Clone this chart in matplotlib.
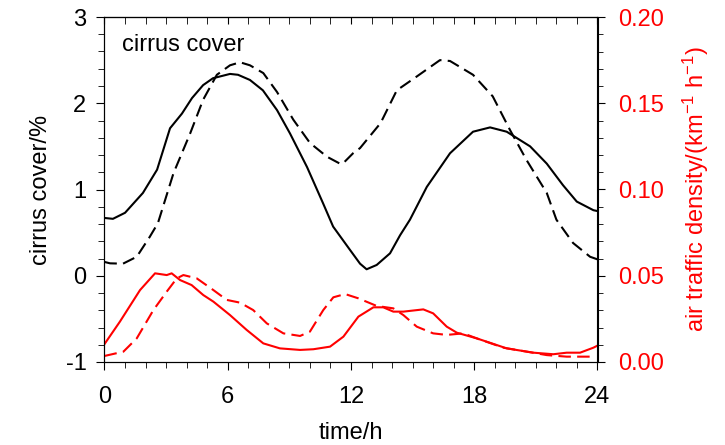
import numpy as np
import matplotlib.pyplot as plt
from matplotlib.ticker import MultipleLocator

plt.rcParams['font.family'] = ['Liberation Sans', 'DejaVu Sans']
plt.rcParams['axes.unicode_minus'] = False
plt.rcParams['mathtext.fontset'] = 'custom'
plt.rcParams['mathtext.rm'] = 'Liberation Sans'
plt.rcParams['mathtext.it'] = 'Liberation Sans'

# cirrus cover (left axis), solid and dashed scenario
t_cs = [0.0, 0.41, 1.0, 1.87, 2.56, 3.19, 3.77, 4.26, 4.80, 5.28, 6.11, 6.50, 7.08, 7.71, 8.40,
        9.03, 9.86, 10.64, 11.13, 11.95, 12.44, 12.76, 13.25, 13.9, 14.39, 14.87, 15.69, 16.82,
        17.94, 18.77, 19.58, 20.72, 21.53, 22.32, 22.99, 23.8, 24.0]
c_solid = [0.67, 0.66, 0.73, 0.96, 1.23, 1.71, 1.88, 2.06, 2.21, 2.29, 2.34, 2.33, 2.27, 2.15, 1.92,
           1.65, 1.26, 0.84, 0.57, 0.30, 0.14, 0.075, 0.125, 0.26, 0.47, 0.65, 1.03, 1.42,
           1.67, 1.72, 1.67, 1.50, 1.30, 1.05, 0.86, 0.76, 0.75]

t_cd = [0.0, 0.27, 0.9, 1.57, 2.2, 2.6, 3.36, 4.17, 4.8, 5.47, 6.11, 6.6, 7.08, 7.73, 8.4, 9.19,
        10.0, 10.83, 11.46, 11.6, 12.1, 12.44, 13.44, 14.23, 15.2, 16.33, 16.82, 17.94, 18.9,
        19.74, 20.55, 21.53, 22.0, 22.81, 23.64, 24.0]
c_dash = [0.16, 0.144, 0.14, 0.22, 0.45, 0.61, 1.19, 1.65, 2.04, 2.33, 2.44, 2.475, 2.44, 2.35, 2.13, 1.81,
          1.54, 1.38, 1.30, 1.30, 1.42, 1.48, 1.77, 2.15, 2.31, 2.50, 2.49, 2.33, 2.08,
          1.69, 1.34, 0.96, 0.65, 0.38, 0.22, 0.19]

# air traffic density (right axis)
t_as = [0.0, 0.75, 1.73, 2.46, 3.03, 3.27, 3.68, 4.24, 4.81, 5.3, 6.11, 6.92, 7.73, 8.54, 9.52,
        10.17, 10.98, 11.63, 12.36, 13.09, 13.57, 14.06, 14.55, 15.52, 16.0, 16.66, 17.15, 18.12,
        19.58, 20.88, 21.85, 22.5, 23.15, 23.8, 24.0]
a_solid = [0.0104, 0.0234, 0.0417, 0.0514, 0.0504, 0.0514, 0.0475, 0.0446, 0.0388, 0.035, 0.0272,
           0.0186, 0.0108, 0.0079, 0.007, 0.0074, 0.0089, 0.0147, 0.0263, 0.0317, 0.0317, 0.0292,
           0.0292, 0.0305, 0.0282, 0.0205, 0.017, 0.0137, 0.0079, 0.0054, 0.0045, 0.0054, 0.0054,
           0.0083, 0.0095]

t_ad = [0.0, 0.92, 1.57, 2.38, 3.03, 3.52, 3.84, 4.49, 5.3, 5.95, 6.6, 7.24, 7.9, 8.71, 9.52,
        10.0, 10.65, 11.14, 11.71, 12.36, 13.25, 14.06, 14.55, 15.2, 16.0, 16.66, 17.47, 18.12,
        19.42, 20.55, 21.53, 22.5, 23.64]
a_dash = [0.0035, 0.006, 0.0137, 0.0301, 0.0408, 0.0485, 0.0504, 0.0485, 0.0417, 0.036, 0.0344,
          0.0301, 0.0224, 0.0166, 0.0151, 0.0176, 0.0301, 0.0375, 0.0394, 0.0369, 0.0325, 0.0311,
          0.0272, 0.0205, 0.0166, 0.0157, 0.0166, 0.0137, 0.0083, 0.006, 0.004, 0.0031, 0.0031]

fig = plt.figure(figsize=(7.25, 4.45), dpi=100)
ax = fig.add_axes([104.5/725, 1-362/445, 493/725, 345/445])
ax2 = ax.twinx()

lw = 1.5
ax.plot(t_cs, c_solid, color='black', lw=lw)
ax.plot(t_cd, c_dash, color='black', lw=lw, dashes=[6, 3])
ax2.plot(t_as, a_solid, color='red', lw=lw)
ax2.plot(t_ad, a_dash, color='red', lw=lw, dashes=[6, 3])

fs = 17
ax.set_xlim(0, 24)
ax.set_ylim(-1, 3)
ax2.set_ylim(0, 0.2)

ax.xaxis.set_major_locator(MultipleLocator(6))
ax.xaxis.set_minor_locator(MultipleLocator(1))
ax.yaxis.set_major_locator(MultipleLocator(1))
ax.yaxis.set_minor_locator(MultipleLocator(0.2))
ax2.yaxis.set_major_locator(MultipleLocator(0.05))
ax2.yaxis.set_minor_locator(MultipleLocator(0.01))
ax2.yaxis.set_major_formatter(plt.FormatStrFormatter('%.2f'))

ax.tick_params(axis='both', which='major', direction='out', length=6, labelsize=fs, pad=7)
ax.tick_params(axis='x', which='major', pad=11)
ax.tick_params(axis='both', which='minor', direction='out', length=4)
ax2.tick_params(axis='y', which='major', direction='out', length=6, labelsize=fs,
                labelcolor='red', pad=9)
ax2.tick_params(axis='y', which='minor', direction='out', length=4)

# top ticks point into the plot
sec = ax.secondary_xaxis('top')
sec.xaxis.set_major_locator(MultipleLocator(6))
sec.xaxis.set_minor_locator(MultipleLocator(1))
sec.tick_params(which='both', direction='in', length=5, labeltop=False)

ax.set_xlabel('time/h', fontsize=fs, labelpad=10)
ax.set_ylabel('cirrus cover/%', fontsize=fs, labelpad=10)
ax2.set_ylabel('air traffic density/(km$^{-1}$ h$^{-1}$)', fontsize=fs, color='red', labelpad=12)

ax.text(0.85, 2.68, 'cirrus cover', fontsize=fs, va='center', ha='left')

fig.savefig('out.png', dpi=100)
